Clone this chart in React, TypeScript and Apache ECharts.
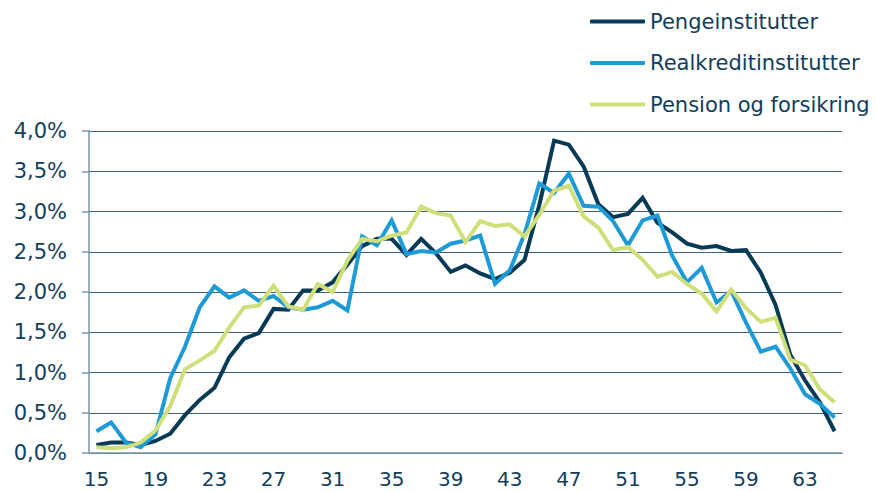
import React, { useEffect, useRef } from "react";
import * as echarts from "echarts";

const ages = Array.from({ length: 51 }, (_, i) => String(15 + i));

const penge = [
  0.10, 0.13, 0.13, 0.10, 0.15, 0.24, 0.47, 0.66, 0.81, 1.19,
  1.42, 1.49, 1.79, 1.78, 2.02, 2.02, 2.12, 2.34, 2.57, 2.66,
  2.66, 2.46, 2.66, 2.48, 2.25, 2.33, 2.23, 2.16, 2.24, 2.40,
  3.08, 3.88, 3.83, 3.56, 3.09, 2.93, 2.97, 3.17, 2.86, 2.74,
  2.60, 2.55, 2.57, 2.51, 2.52, 2.24, 1.84, 1.22, 0.90, 0.63, 0.27,
];

const realkredit = [
  0.27, 0.38, 0.13, 0.07, 0.23, 0.93, 1.32, 1.81, 2.07, 1.93,
  2.02, 1.89, 1.95, 1.81, 1.78, 1.81, 1.89, 1.77, 2.69, 2.58,
  2.89, 2.47, 2.51, 2.49, 2.60, 2.64, 2.70, 2.10, 2.27, 2.72,
  3.35, 3.23, 3.47, 3.07, 3.06, 2.88, 2.58, 2.89, 2.95, 2.45,
  2.12, 2.30, 1.87, 2.01, 1.62, 1.26, 1.32, 1.05, 0.73, 0.61, 0.44,
];

const pension = [
  0.07, 0.06, 0.07, 0.13, 0.28, 0.58, 1.04, 1.15, 1.27, 1.56,
  1.81, 1.83, 2.08, 1.82, 1.78, 2.10, 2.00, 2.39, 2.66, 2.63,
  2.70, 2.74, 3.06, 2.98, 2.95, 2.62, 2.88, 2.82, 2.84, 2.69,
  2.96, 3.26, 3.32, 2.94, 2.80, 2.52, 2.56, 2.40, 2.19, 2.25,
  2.10, 1.98, 1.76, 2.03, 1.80, 1.63, 1.68, 1.16, 1.09, 0.79, 0.63,
];

const seriesNames = ["Pengeinstitutter", "Realkreditinstitutter", "Pension og forsikring"];
const colors = ["#073a55", "#1e9bd7", "#d0df7a"];

const textColor = "#123d5c";
const font = "DejaVu Sans";

export default function App() {
  const ref = useRef<HTMLDivElement>(null);
  useEffect(() => {
    document.body.style.margin = "0";
    const chart = echarts.init(ref.current!, null, { renderer: "svg" });
    const data = [penge, realkredit, pension];
    chart.setOption({
      animation: false,
      backgroundColor: "#ffffff",
      grid: { left: 89, right: 34, top: 131, bottom: 38, containLabel: false },
      legend: {
        orient: "vertical",
        left: 590,
        top: 11,
        padding: 0,
        icon: "roundRect",
        itemWidth: 55,
        itemHeight: 4,
        itemGap: 20.5,
        textStyle: { color: textColor, fontFamily: font, fontSize: 21, lineHeight: 21, padding: [0, 0, 0, 0] },
        data: seriesNames,
      },
      xAxis: {
        type: "category",
        data: ages,
        boundaryGap: true,
        axisLine: { lineStyle: { color: "#7d95a7", width: 1.5 } },
        axisTick: { interval: 0, length: 7, lineStyle: { color: "#7d95a7", width: 1.5 } },
        axisLabel: { interval: 3, margin: 16, color: textColor, fontFamily: font, fontSize: 20 },
        splitLine: { show: false },
      },
      yAxis: {
        type: "value",
        min: 0,
        max: 4,
        interval: 0.5,
        axisLine: { show: true, lineStyle: { color: "#7d95a7", width: 1.5 } },
        axisTick: { show: true, length: 7, lineStyle: { color: "#7d95a7", width: 1.5 } },
        axisLabel: {
          margin: 22,
          color: textColor,
          fontFamily: font,
          fontSize: 21,
          formatter: (v: number) => v.toFixed(1).replace(".", ",") + "%",
        },
        splitLine: { lineStyle: { color: "#3f6079", width: 1.2 } },
      },
      series: seriesNames.map((name, i) => ({
        name,
        type: "line",
        data: data[i],
        symbol: "none",
        lineStyle: { color: colors[i], width: 4, join: "miter" },
        itemStyle: { color: colors[i] },
      })),
    });
    return () => chart.dispose();
  }, []);
  return <div ref={ref} style={{ width: 876, height: 491 }} />;
}
